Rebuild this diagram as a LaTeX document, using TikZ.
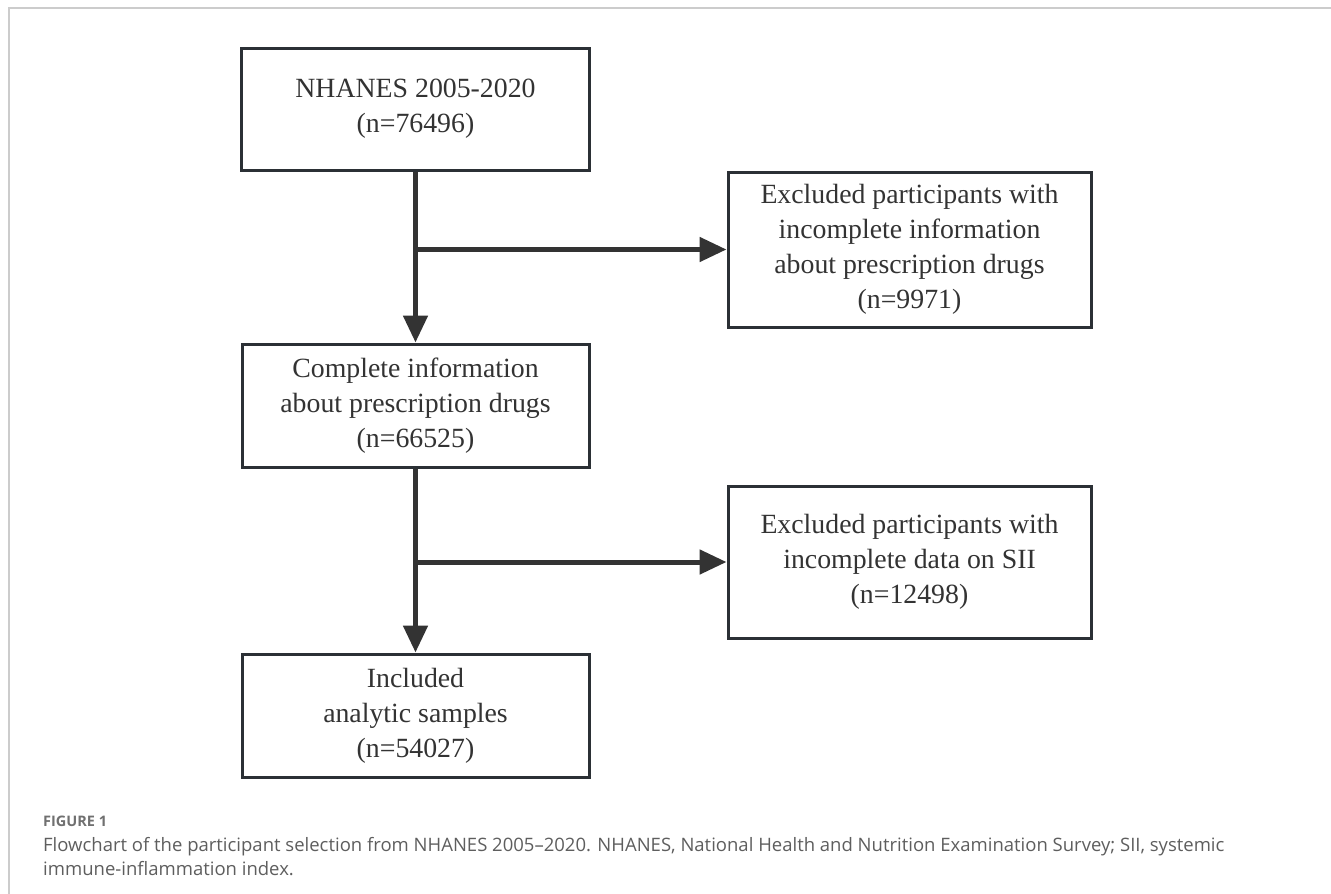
\documentclass[tikz,border=0pt]{standalone}
\usepackage{fontspec}
\setmainfont{Liberation Serif}
\newfontfamily\capfont[Ligatures=TeX]{Open Sans}
\usetikzlibrary{arrows.meta}
\definecolor{boxline}{HTML}{2B3035}
\definecolor{arrowc}{HTML}{333333}
\definecolor{txt}{HTML}{333333}
\definecolor{framec}{HTML}{CCCCCC}
\definecolor{capc}{HTML}{5E5E5E}
\definecolor{figc}{HTML}{707070}
\begin{document}
\begin{tikzpicture}[x=1pt,y=-1pt,
  box/.style={draw=boxline, line width=3pt, fill=white, align=center, text=txt,
    font=\fontsize{27.8}{35}\selectfont, inner sep=0pt},
  flow/.style={draw=arrowc, line width=5pt, -{Triangle[length=27pt,width=24pt]}},
  captext/.style={inner sep=0pt}]
\useasboundingbox (0,0) rectangle (1331,894);
\fill[white] (0,0) rectangle (1331,894);
\draw[framec, line width=2pt] (9,894) -- (9,8) -- (1331,8);

\node[box, minimum width=348pt, minimum height=122pt] (n1) at (415.5,109) {NHANES 2005-2020\\(n=76496)};
\node[box, minimum width=363pt, minimum height=155pt] (n2) at (909.5,249.5) {Excluded participants with\\incomplete information\\about prescription drugs\\(n=9971)};
\node[box, minimum width=347pt, minimum height=123pt] (n3) at (415.5,405.5) {Complete information\\about prescription drugs\\(n=66525)};
\node[box, minimum width=363pt, minimum height=152pt] (n4) at (909.5,562) {Excluded participants with\\incomplete data on SII\\(n=12498)};
\node[box, minimum width=347pt, minimum height=123pt] (n5) at (415.5,715.5) {Included\\analytic samples\\(n=54027)};

\draw[flow] (n1.south) -- (n3.north);
\draw[flow] (n1.south |- n2.west) -- (n2.west);
\draw[flow] (n3.south) -- (n5.north);
\draw[flow] (n3.south |- n4.west) -- (n4.west);

\node[captext, text=figc, anchor=base west, font=\capfont\fontsize{14.5}{16}\selectfont\bfseries] (fig) at (43,826) {FIGURE 1};
\node[captext, text=capc, anchor=base west, font=\capfont\fontsize{18.5}{22}\selectfont] (cap1) at (43,851) {Flowchart of the participant selection from NHANES 2005–2020. NHANES, National Health and Nutrition Examination Survey; SII, systemic};
\node[captext, text=capc, anchor=base west, font=\capfont\fontsize{18.5}{22}\selectfont] (cap2) at (43,875) {immune-inflammation index.};
\end{tikzpicture}
\end{document}
